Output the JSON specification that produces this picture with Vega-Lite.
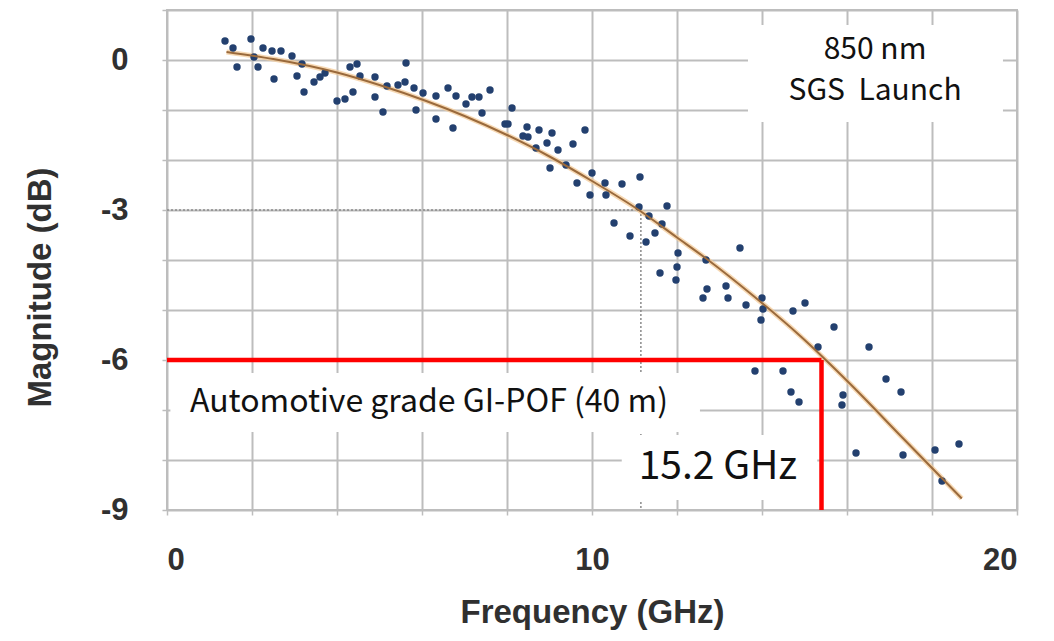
{
  "$schema": "https://vega.github.io/schema/vega-lite/v6.json",
  "width": 850,
  "height": 500,
  "autosize": {"type": "none"},
  "padding": {"left": 167, "top": 10, "right": 37, "bottom": 131},
  "background": "white",
  "config": {
    "view": {"stroke": "#bdbdbd", "strokeWidth": 2},
    "axis": {
      "gridColor": "#bdbdbd", "gridWidth": 2, "gridOpacity": 1,
      "domain": false, "tickColor": "#bdbdbd", "tickWidth": 1.5, "tickSize": 5,
      "labelFont": "Liberation Sans", "labelFontSize": 31, "labelFontWeight": "bold", "labelColor": "#303030",
      "titleFont": "Liberation Sans", "titleFontSize": 33, "titleFontWeight": "bold", "titleColor": "#303030"
    }
  },
  "datasets": {
    "pts": [
      {"f": 1.365, "m": 0.38}, {"f": 1.553, "m": 0.24}, {"f": 1.647, "m": -0.14}, {"f": 1.976, "m": 0.42},
      {"f": 2.047, "m": 0.06}, {"f": 2.141, "m": -0.14}, {"f": 2.259, "m": 0.24}, {"f": 2.471, "m": 0.18},
      {"f": 2.682, "m": 0.18}, {"f": 2.518, "m": -0.38}, {"f": 2.941, "m": 0.08}, {"f": 3.059, "m": -0.32},
      {"f": 3.176, "m": -0.08}, {"f": 3.224, "m": -0.64}, {"f": 3.459, "m": -0.44}, {"f": 3.6, "m": -0.34},
      {"f": 3.718, "m": -0.26}, {"f": 4.0, "m": -0.82}, {"f": 4.188, "m": -0.78}, {"f": 4.306, "m": -0.14},
      {"f": 4.471, "m": -0.08}, {"f": 4.376, "m": -0.64}, {"f": 4.541, "m": -0.32}, {"f": 4.894, "m": -0.34},
      {"f": 4.894, "m": -0.74}, {"f": 5.082, "m": -1.04}, {"f": 5.176, "m": -0.52}, {"f": 5.435, "m": -0.5},
      {"f": 5.624, "m": -0.06}, {"f": 5.6, "m": -0.44}, {"f": 5.812, "m": -0.56}, {"f": 5.859, "m": -1.0},
      {"f": 6.024, "m": -0.66}, {"f": 6.329, "m": -0.72}, {"f": 6.329, "m": -1.18}, {"f": 6.612, "m": -0.56},
      {"f": 6.8, "m": -0.72}, {"f": 6.729, "m": -1.36}, {"f": 7.035, "m": -0.88}, {"f": 7.176, "m": -0.74},
      {"f": 7.341, "m": -0.74}, {"f": 7.412, "m": -1.06}, {"f": 7.6, "m": -0.6}, {"f": 8.118, "m": -0.96},
      {"f": 7.953, "m": -1.28}, {"f": 8.024, "m": -1.28}, {"f": 8.376, "m": -1.52}, {"f": 8.494, "m": -1.54},
      {"f": 8.471, "m": -1.34}, {"f": 8.753, "m": -1.4}, {"f": 8.682, "m": -1.76}, {"f": 9.059, "m": -1.46},
      {"f": 8.941, "m": -1.66}, {"f": 9.2, "m": -1.8}, {"f": 9.012, "m": -2.16}, {"f": 9.388, "m": -2.1},
      {"f": 9.553, "m": -1.68}, {"f": 9.835, "m": -1.4}, {"f": 9.647, "m": -2.46}, {"f": 10.0, "m": -2.26},
      {"f": 9.953, "m": -2.7}, {"f": 10.306, "m": -2.46}, {"f": 10.329, "m": -2.7}, {"f": 10.706, "m": -2.48},
      {"f": 11.129, "m": -2.34}, {"f": 11.106, "m": -2.94}, {"f": 11.341, "m": -3.12}, {"f": 11.765, "m": -2.92},
      {"f": 11.647, "m": -3.28}, {"f": 10.518, "m": -3.26}, {"f": 10.894, "m": -3.52}, {"f": 11.271, "m": -3.64},
      {"f": 11.482, "m": -3.46}, {"f": 12.024, "m": -3.86}, {"f": 12.0, "m": -4.14}, {"f": 11.6, "m": -4.26},
      {"f": 11.976, "m": -4.4}, {"f": 13.482, "m": -3.76}, {"f": 12.682, "m": -4.0}, {"f": 12.706, "m": -4.58},
      {"f": 13.153, "m": -4.52}, {"f": 12.612, "m": -4.76}, {"f": 13.2, "m": -4.76}, {"f": 13.624, "m": -4.9},
      {"f": 14.0, "m": -4.76}, {"f": 14.024, "m": -4.98}, {"f": 13.976, "m": -5.2}, {"f": 14.729, "m": -5.02},
      {"f": 15.012, "m": -4.86}, {"f": 15.694, "m": -5.34}, {"f": 15.318, "m": -5.74}, {"f": 13.835, "m": -6.22},
      {"f": 14.494, "m": -6.22}, {"f": 14.682, "m": -6.64}, {"f": 14.871, "m": -6.84}, {"f": 16.518, "m": -5.74},
      {"f": 15.906, "m": -6.7}, {"f": 15.882, "m": -6.9}, {"f": 16.918, "m": -6.38}, {"f": 17.271, "m": -6.64},
      {"f": 16.212, "m": -7.86}, {"f": 17.318, "m": -7.9}, {"f": 18.071, "m": -7.8}, {"f": 18.635, "m": -7.68},
      {"f": 18.235, "m": -8.42}
    ],
    "trend": [
      {"f": 1.4, "m": 0.16}, {"f": 2.5, "m": 0.02}, {"f": 4.0, "m": -0.25}, {"f": 5.0, "m": -0.5},
      {"f": 6.1, "m": -0.82}, {"f": 7.0, "m": -1.12}, {"f": 8.0, "m": -1.5}, {"f": 9.0, "m": -1.93},
      {"f": 10.0, "m": -2.42}, {"f": 11.1, "m": -3.0}, {"f": 12.0, "m": -3.55}, {"f": 12.7, "m": -3.98},
      {"f": 13.8, "m": -4.72}, {"f": 14.9, "m": -5.52}, {"f": 16.1, "m": -6.5}, {"f": 17.3, "m": -7.55},
      {"f": 18.7, "m": -8.77}
    ],
    "dotted": [
      {"f": 0, "f2": 11.15, "m": -3, "m2": -3},
      {"f": 11.15, "f2": 11.15, "m": -3, "m2": -9}
    ],
    "red": [
      {"f": 0, "f2": 15.4, "m": -6, "m2": -6},
      {"f": 15.4, "f2": 15.4, "m": -6, "m2": -9}
    ],
    "boxes": [
      {"f": 13.67, "f2": 19.67, "m": 0.7, "m2": -1.24},
      {"f": 0.08, "f2": 12.54, "m": -6.26, "m2": -7.44},
      {"f": 10.7, "f2": 15.3, "m": -7.5, "m2": -8.8}
    ]
  },
  "encoding": {
    "x": {"field": "f", "type": "quantitative", "scale": {"domain": [0, 20], "nice": false, "zero": false},
      "axis": {"values": [0, 2, 4, 6, 8, 10, 12, 14, 16, 18, 20], "labelExpr": "datum.value % 10 === 0 ? '' + datum.value : ''",
        "title": "Frequency (GHz)", "labelPadding": 30, "titleY": 102, "titleBaseline": "middle"}},
    "y": {"field": "m", "type": "quantitative", "scale": {"domain": [-9, 1], "nice": false, "zero": false},
      "axis": {"values": [-9, -8, -7, -6, -5, -4, -3, -2, -1, 0, 1], "labelExpr": "datum.value % 3 === 0 ? '' + datum.value : ''",
        "title": "Magnitude (dB)", "labelPadding": 34, "titleX": -127, "titleY": 277, "titleBaseline": "middle"}}
  },
  "layer": [
    {
      "data": {"name": "dotted"},
      "mark": {"type": "rule", "color": "#8a8a8a", "strokeWidth": 1.5, "strokeDash": [2, 2]},
      "encoding": {"x2": {"field": "f2"}, "y2": {"field": "m2"}}
    },
    {
      "data": {"name": "boxes"},
      "mark": {"type": "rect", "fill": "white", "stroke": null},
      "encoding": {"x2": {"field": "f2"}, "y2": {"field": "m2"}}
    },
    {
      "data": {"name": "trend"},
      "mark": {"type": "line", "color": "#f3c994", "strokeWidth": 5, "opacity": 0.7, "interpolate": "monotone"}
    },
    {
      "data": {"name": "pts"},
      "mark": {"type": "circle", "color": "#23406f", "size": 55, "opacity": 1}
    },
    {
      "data": {"name": "trend"},
      "mark": {"type": "line", "color": "#9a6a3c", "strokeWidth": 2, "interpolate": "monotone"}
    },
    {
      "data": {"name": "red"},
      "mark": {"type": "rule", "color": "#ff0000", "strokeWidth": 4.5},
      "encoding": {"x2": {"field": "f2"}, "y2": {"field": "m2"}}
    },
    {
      "data": {"values": [{"f": 16.66, "m": 0.2, "t": "850 nm"}, {"f": 16.66, "m": -0.62, "t": "SGS\u00a0 Launch"}]},
      "mark": {"type": "text", "font": "Noto Sans CJK JP", "fontSize": 30, "color": "#111", "align": "center", "baseline": "middle"},
      "encoding": {"text": {"field": "t"}}
    },
    {
      "data": {"values": [{"f": 0.54, "m": -6.84, "t": "Automotive grade GI-POF (40 m)"}]},
      "mark": {"type": "text", "font": "Noto Sans CJK JP", "fontSize": 32, "color": "#111", "align": "left", "baseline": "middle"},
      "encoding": {"text": {"field": "t"}}
    },
    {
      "data": {"values": [{"f": 12.96, "m": -8.14, "t": "15.2 GHz"}]},
      "mark": {"type": "text", "font": "Noto Sans CJK JP", "fontSize": 39, "color": "#111", "align": "center", "baseline": "middle"},
      "encoding": {"text": {"field": "t"}}
    }
  ]
}
